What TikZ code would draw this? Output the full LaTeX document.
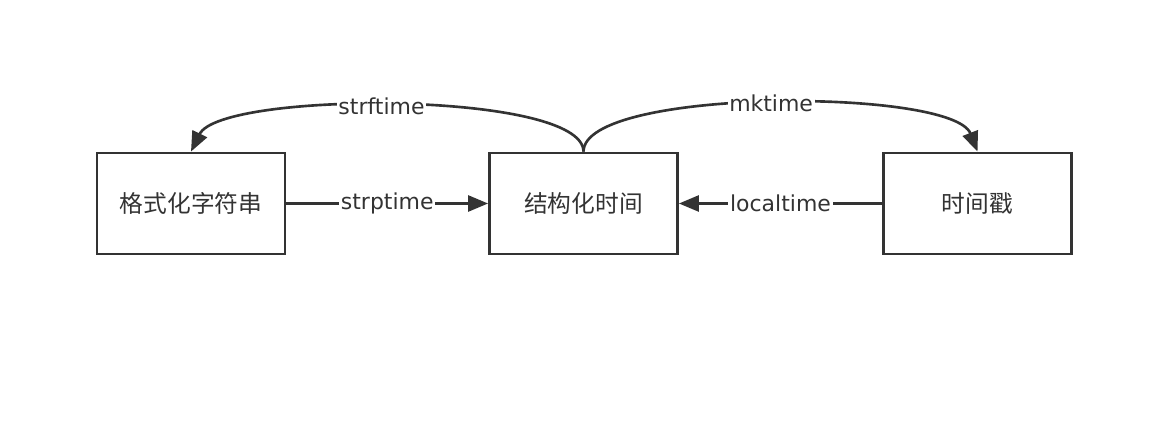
\documentclass[tikz,border=0pt]{standalone}
\usepackage{fontspec}
\usepackage{tikz}
\usetikzlibrary{arrows.meta, positioning}
\setmainfont{DejaVu Sans}
\newfontfamily\cjkfont{Noto Sans CJK SC}
\definecolor{linegray}{HTML}{333333}

\begin{document}
\begin{tikzpicture}[
  box/.style={draw=linegray, line width=1.6pt, minimum width=3.76cm, minimum height=2.02cm, font=\fontsize{13.5}{14}\selectfont\cjkfont, text=linegray},
  conn/.style={draw=linegray, line width=1.5pt, -{Triangle[length=4mm, width=3.2mm]}},
  lbl/.style={fill=white, inner sep=1pt, text=linegray, font=\fontsize{12.5}{13}\selectfont}
]
  \useasboundingbox (0,0) rectangle (23.3,-8.44);

  % the three boxes
  \node[box] (fmtstr) at (3.82,-4.07) {格式化字符串};
  \node[box] (structtime) at (11.67,-4.07) {结构化时间};
  \node[box] (stamp) at (19.55,-4.07) {时间戳};

  % straight conversions
  \draw[conn] (fmtstr.east) -- node[lbl] {strptime} (structtime.west);
  \draw[conn] (stamp.west) -- node[lbl] {localtime} (structtime.east);

  % curved conversions over the top
  \draw[conn] (structtime.north) .. controls +(0,1.22) and +(0.6,1.22) .. node[lbl, pos=0.53] {strftime} (fmtstr.north);
  \draw[conn] (structtime.north) .. controls +(0,1.28) and +(-0.5,1.28) .. node[lbl, pos=0.5] {mktime} (stamp.north);
\end{tikzpicture}
\end{document}
